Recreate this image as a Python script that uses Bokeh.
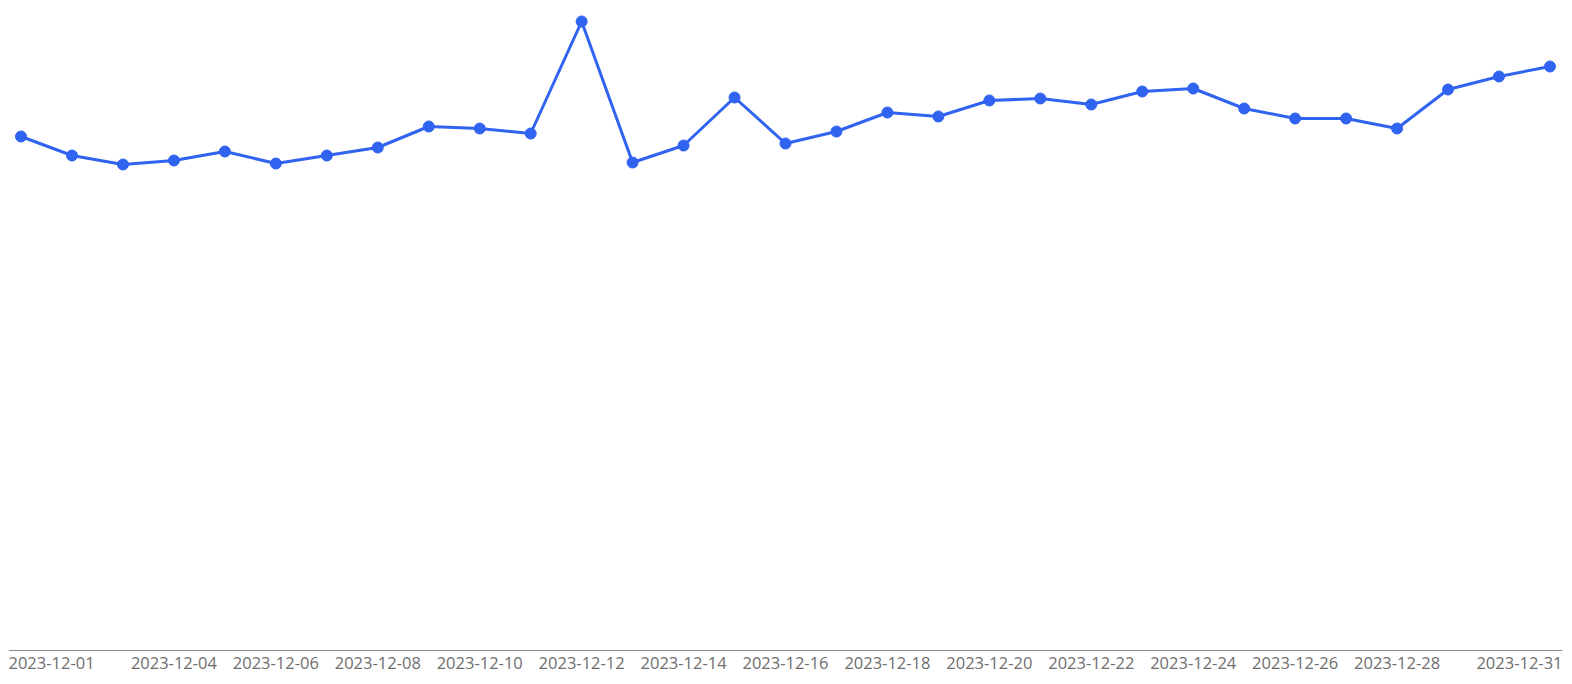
import pandas as pd
from datetime import timedelta
from bokeh.plotting import figure
from bokeh.models import Range1d, Span, ColumnDataSource
from bokeh.core.properties import value
from bokeh.embed import file_html
from bokeh.resources import INLINE

dates = ["2023-12-01", "2023-12-02", "2023-12-03", "2023-12-04", "2023-12-05",
         "2023-12-06", "2023-12-07", "2023-12-08", "2023-12-09", "2023-12-10",
         "2023-12-11", "2023-12-12", "2023-12-13", "2023-12-14", "2023-12-15",
         "2023-12-16", "2023-12-17", "2023-12-18", "2023-12-19", "2023-12-20",
         "2023-12-21", "2023-12-22", "2023-12-23", "2023-12-24", "2023-12-25",
         "2023-12-26", "2023-12-27", "2023-12-28", "2023-12-29", "2023-12-30",
         "2023-12-31"]
values = [514, 495, 486, 490, 499, 487, 495, 503, 524, 522,
          517, 629, 488, 505, 553, 507, 519, 538, 534, 550,
          552, 546, 559, 562, 542, 532, 532, 522, 561, 574,
          584]
tick_labels = ["2023-12-01", "2023-12-04", "2023-12-06", "2023-12-08", "2023-12-10",
               "2023-12-12", "2023-12-14", "2023-12-16", "2023-12-18", "2023-12-20",
               "2023-12-22", "2023-12-24", "2023-12-26", "2023-12-28", "2023-12-31"]

LINE = "#2F63F0"
TEXT = "#6E6E6E"
FONT = "Open Sans"
FSIZE = "16.5px"

xs = pd.to_datetime(dates)
src = ColumnDataSource(dict(x=xs, y=values))

def ms(t):
    return t.value / 1e6

pad = timedelta(hours=5.9)
x_range = Range1d(start=ms(xs[0] - pad), end=ms(xs[-1] + pad))

p = figure(width=1570, height=684, output_backend="svg", toolbar_location=None,
           x_axis_type="datetime", x_range=x_range, y_range=Range1d(-34, 642),
           x_axis_location=None, y_axis_location=None,
           min_border_left=8, min_border_right=8, min_border_top=8, min_border_bottom=0)
p.xgrid.visible = False
p.ygrid.visible = False
p.outline_line_color = None
p.background_fill_color = "white"
p.border_fill_color = "white"

# axis baseline
p.add_layout(Span(location=0, dimension="width", line_color="#8C8C8C", line_width=1))

p.line("x", "y", source=src, line_width=3, line_color=LINE)
p.scatter("x", "y", source=src, size=11, fill_color=LINE, line_color=LINE)

# category tick labels
mid = pd.to_datetime(tick_labels[1:-1])
lab_src = ColumnDataSource(dict(x=mid, y=[0] * len(mid), t=tick_labels[1:-1]))
common = dict(text_font=value(FONT), text_font_size=value(FSIZE), text_color=TEXT,
              text_baseline="top", y_offset=6)
p.text("x", "y", text="t", source=lab_src, text_align="center", **common)
p.text(x=[x_range.start], y=[0], text=[tick_labels[0]], text_align="left", **common)
p.text(x=[x_range.end], y=[0], text=[tick_labels[-1]], text_align="right", **common)

open("out.html", "w").write(file_html(p, INLINE))
